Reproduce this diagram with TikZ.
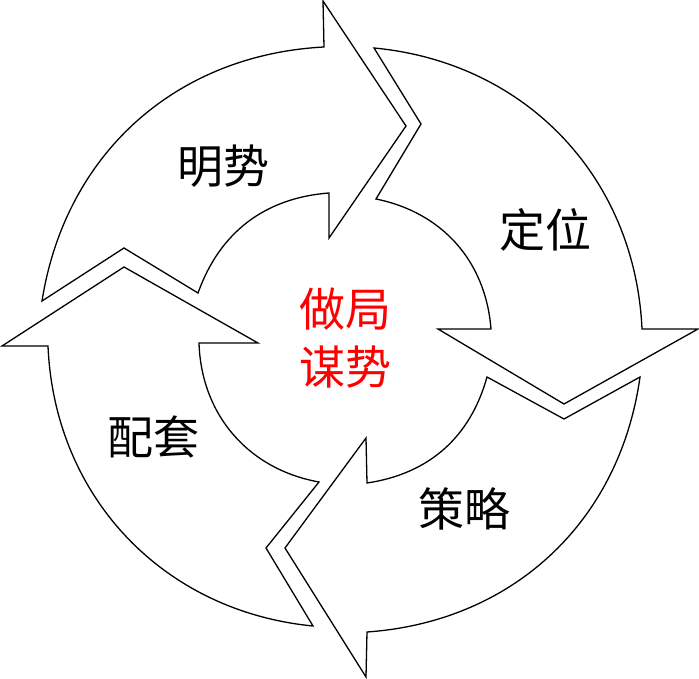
\documentclass[tikz,border=0pt]{standalone}
\usepackage{fontspec}
\newfontfamily\cjk{Noto Sans CJK SC}
\begin{document}
\begin{tikzpicture}[x=1pt,y=-1pt,
  arr/.style={draw=black,fill=white,line width=1.3pt,line join=miter},
  lbl/.style={font=\cjk\fontsize{46}{58}\selectfont,text=black,inner sep=0pt},
  ctr/.style={font=\cjk\fontsize{46}{58}\selectfont,text=red,inner sep=0pt,align=center}]
\fill[white] (0,0) rectangle (699,679);
\useasboundingbox (0,0) rectangle (699,679);
% arrow 1 (明势)
\coordinate (a1to) at (42,301);
\coordinate (a1ho) at (324,47);
\coordinate (a1ht) at (323,1);
\coordinate (a1tip) at (406,126);
\coordinate (a1hb) at (329,238);
\coordinate (a1hi) at (329,193);
\coordinate (a1ti) at (198,293);
\coordinate (a1n) at (124,248);
% arrow 2 (定位)
\coordinate (a2to) at (374,48);
\coordinate (a2ho) at (642,329);
\coordinate (a2ht) at (698,329);
\coordinate (a2tip) at (564,404);
\coordinate (a2hb) at (438,329);
\coordinate (a2hi) at (491,329);
\coordinate (a2ti) at (376,199);
\coordinate (a2n) at (421,124);
% arrow 3 (策略)
\coordinate (a3to) at (640,377);
\coordinate (a3ho) at (367,632);
\coordinate (a3ht) at (366,677);
\coordinate (a3tip) at (285,548);
\coordinate (a3hb) at (366,438);
\coordinate (a3hi) at (367,483);
\coordinate (a3ti) at (487,377);
\coordinate (a3n) at (564,419);
% arrow 4 (配套)
\coordinate (a4to) at (313,626);
\coordinate (a4ho) at (48,346);
\coordinate (a4ht) at (2,346);
\coordinate (a4tip) at (124,267);
\coordinate (a4hb) at (258,343);
\coordinate (a4hi) at (199,343);
\coordinate (a4ti) at (319,482);
\coordinate (a4n) at (266,548);

\draw[arr] (a1to) to[bend left=39] (a1ho) -- (a1ht) -- (a1tip) -- (a1hb) -- (a1hi) to[bend right=33] (a1ti) -- (a1n) -- cycle;
\draw[arr] (a2to) to[bend left=41] (a2ho) -- (a2ht) -- (a2tip) -- (a2hb) -- (a2hi) to[bend right=37] (a2ti) -- (a2n) -- cycle;
\draw[arr] (a3to) to[bend left=39] (a3ho) -- (a3ht) -- (a3tip) -- (a3hb) -- (a3hi) to[bend right=33] (a3ti) -- (a3n) -- cycle;
\draw[arr] (a4to) to[bend left=41] (a4ho) -- (a4ht) -- (a4tip) -- (a4hb) -- (a4hi) to[bend right=39] (a4ti) -- (a4n) -- cycle;

\node[lbl] (t1) at (223,166) {明势};
\node[lbl] (t2) at (545,230) {定位};
\node[lbl] (t3) at (464,509) {策略};
\node[lbl] (t4) at (153,437) {配套};
\node[ctr] (tc) at (345,338) {做局\\谋势};
\end{tikzpicture}
\end{document}
